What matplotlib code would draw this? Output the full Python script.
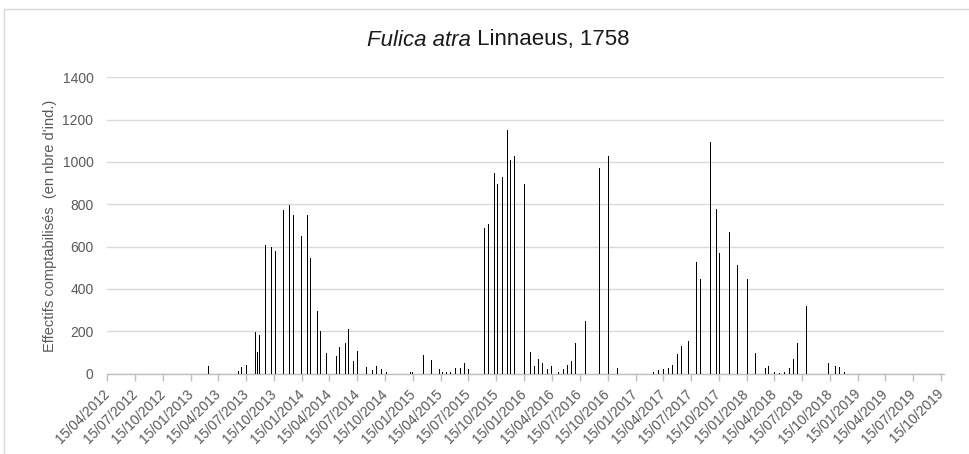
import matplotlib
matplotlib.use('Agg')
import matplotlib.pyplot as plt
import matplotlib.dates as mdates
from matplotlib.patches import Rectangle
import numpy as np
import datetime as dt

plt.rcParams['font.family'] = ['Liberation Sans', 'DejaVu Sans']

#### Data (date of count, number of individuals)
count_dates = [
    '2013-03-15', '2013-06-19', '2013-07-01', '2013-07-15', '2013-08-15', '2013-08-22',
    '2013-08-29', '2013-09-17', '2013-10-05', '2013-10-18', '2013-11-14', '2013-12-04',
    '2013-12-18', '2014-01-14', '2014-02-03', '2014-02-13', '2014-03-05', '2014-03-16',
    '2014-04-06', '2014-05-09', '2014-05-19', '2014-06-05', '2014-06-18', '2014-07-02',
    '2014-07-15', '2014-08-15', '2014-09-04', '2014-09-18', '2014-10-04', '2014-10-18',
    '2015-01-07', '2015-01-13', '2015-02-17', '2015-03-17', '2015-04-10', '2015-04-20',
    '2015-05-05', '2015-05-19', '2015-06-03', '2015-06-18', '2015-07-02', '2015-07-16',
    '2015-09-05', '2015-09-18', '2015-10-08', '2015-10-20', '2015-11-05', '2015-11-21',
    '2015-12-02', '2015-12-15', '2016-01-15', '2016-02-04', '2016-02-17', '2016-03-02',
    '2016-03-15', '2016-04-01', '2016-04-14', '2016-05-05', '2016-05-22', '2016-06-05',
    '2016-06-19', '2016-07-02', '2016-08-04', '2016-09-17', '2016-10-18', '2016-11-17',
    '2017-03-15', '2017-04-01', '2017-04-15', '2017-05-02', '2017-05-15', '2017-06-01',
    '2017-06-15', '2017-07-06', '2017-08-02', '2017-08-15', '2017-09-18', '2017-10-06',
    '2017-10-19', '2017-11-18', '2017-12-15', '2018-01-18', '2018-02-13', '2018-03-16',
    '2018-03-29', '2018-04-15', '2018-05-02', '2018-05-19', '2018-06-03', '2018-06-18',
    '2018-07-02', '2018-07-30', '2018-10-12', '2018-11-01', '2018-11-15', '2018-12-01',
]
counts = [
    35, 12, 29, 40, 194, 103,
    182, 609, 598, 579, 773, 798,
    749, 648, 749, 546, 297, 199,
    97, 84, 127, 142, 210, 59,
    108, 29, 16, 35, 21, 9,
    5, 5, 89, 64, 20, 7,
    7, 7, 24, 24, 51, 20,
    688, 708, 950, 896, 931, 1151,
    1009, 1028, 896, 100, 35, 68,
    51, 20, 35, 9, 20, 40,
    59, 142, 248, 970, 1027, 24,
    9, 16, 20, 24, 40, 92,
    128, 155, 527, 448, 1096, 779,
    569, 667, 511, 448, 97, 24,
    35, 9, 4, 9, 24, 68,
    142, 317, 48, 34, 29, 9,
]
y_ticks = [0, 200, 400, 600, 800, 1000, 1200, 1400]

#### x tick dates: the 15th of every quarter month
tick_dates = [dt.date(y, m, 15) for y in range(2012, 2020) for m in (1, 4, 7, 10)]
tick_dates = [d for d in tick_dates if dt.date(2012, 4, 15) <= d <= dt.date(2019, 10, 15)]

dates = [dt.datetime.strptime(s, '%Y-%m-%d') for s in count_dates]

fig = plt.figure(figsize=(9.7, 4.54), dpi=100)
ax = fig.add_axes([107.3 / 970, 1 - 373.5 / 454, (943.7 - 107.3) / 970, (373.5 - 77.3) / 454])

ax.bar(dates, counts, width=3.3, color='black', linewidth=0, zorder=3)

ax.set_xlim(dt.date(2012, 4, 15), dt.date(2019, 10, 24))
ax.set_ylim(0, 1400)
ax.set_yticks(y_ticks)
ax.set_xticks(tick_dates)
ax.xaxis.set_major_formatter(mdates.DateFormatter('%d/%m/%Y'))
ax.grid(axis='y', color='#d9d9d9', linewidth=1, zorder=0)
ax.set_axisbelow(True)

for s in ['top', 'right', 'left']:
    ax.spines[s].set_visible(False)
ax.spines['bottom'].set_color('#bfbfbf')
ax.spines['bottom'].set_linewidth(1)

ax.tick_params(axis='y', length=0, pad=10, labelsize=10, labelcolor='#595959')
ax.tick_params(axis='x', length=5, width=1, color='#bfbfbf', pad=8, labelsize=10, labelcolor='#595959')
plt.setp(ax.get_xticklabels(), rotation=45, ha='right', va='center', rotation_mode='anchor')

ax.set_ylabel("Effectifs comptabilisés  (en nbre d'ind.)", fontsize=10.5, color='#595959', labelpad=4)

#### Title with italic species name
t1 = fig.text(0.4, 1 - 40 / 454, 'Fulica atra', fontsize=16, style='italic', color='#1a1a1a', ha='left', va='center')
t2 = ax.annotate(' Linnaeus, 1758', xy=(1, 0), xycoords=t1, fontsize=16, color='#1a1a1a', ha='left', va='bottom',
                 annotation_clip=False)
fig.canvas.draw()
r = fig.canvas.get_renderer()
b1 = t1.get_window_extent(r)
b2 = t2.get_window_extent(r)
total = b2.x1 - b1.x0
t1.set_x((498 - total / 2) / 970)

#### light frame round the chart
fig.patches.append(Rectangle((4 / 970, -0.1), 1.2, 1.1 - 9 / 454, transform=fig.transFigure,
                             fill=False, edgecolor='#d9d9d9', linewidth=1))

plt.savefig('out.png', dpi=100)
